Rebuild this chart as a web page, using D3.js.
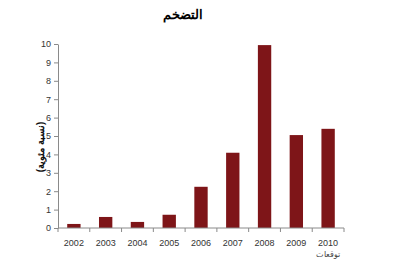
<!DOCTYPE html>
<html lang="ar">
  <head>
    <meta charset="UTF-8" />
    <title>التضخم</title>
    <script src="https://d3js.org/d3.v7.min.js"></script>
    <style>
      body { margin: 0; background: #fff; }
    </style>
  </head>
  <body>
    <div id="chart"></div>
    <script>
      const years = ['2002', '2003', '2004', '2005', '2006', '2007', '2008', '2009', '2010']
      const inflation = [0.22, 0.6, 0.33, 0.72, 2.24, 4.09, 9.94, 5.05, 5.39]
      const yTicks = [0, 1, 2, 3, 4, 5, 6, 7, 8, 9, 10]

      const W = 400, H = 265
      const margin = { top: 44, right: 56, bottom: 37, left: 58 }
      const width = W - margin.left - margin.right
      const height = H - margin.top - margin.bottom

      const svg = d3.select('#chart').append('svg')
        .attr('width', W).attr('height', H)
        .style('font-family', 'Arial, "Liberation Sans", sans-serif')

      const g = svg.append('g')
        .attr('transform', `translate(${margin.left}, ${margin.top})`)

      const x = d3.scaleBand().domain(years).range([0, width]).paddingInner(0.58).paddingOuter(0.29)
      const y = d3.scaleLinear().domain([0, 10]).range([height, 0])

      // bars
      g.selectAll('rect.bar')
        .data(years)
        .join('rect')
        .attr('class', 'bar')
        .attr('x', d => x(d))
        .attr('width', x.bandwidth())
        .attr('y', (d, i) => y(inflation[i]))
        .attr('height', (d, i) => height - y(inflation[i]))
        .attr('fill', '#7e1518')

      // y axis
      const yAxis = g.append('g')
        .call(d3.axisLeft(y).tickValues(yTicks).tickSize(4).tickSizeOuter(0).tickPadding(3))
      yAxis.select('.domain').attr('stroke', '#8a8a8a')
      yAxis.selectAll('.tick line').attr('stroke', '#8a8a8a')
      yAxis.selectAll('.tick text').attr('font-size', 9).attr('fill', '#333')

      // x axis, ticks between categories
      const xAxis = g.append('g').attr('transform', `translate(0, ${height})`)
      xAxis.append('line')
        .attr('x1', 0).attr('x2', width)
        .attr('stroke', '#8a8a8a')
      const step = x.step()
      xAxis.selectAll('line.sep')
        .data(d3.range(years.length + 1))
        .join('line')
        .attr('class', 'sep')
        .attr('x1', i => i * step).attr('x2', i => i * step)
        .attr('y1', 0).attr('y2', 4)
        .attr('stroke', '#8a8a8a')
      xAxis.selectAll('text.yr')
        .data(years)
        .join('text')
        .attr('class', 'yr')
        .attr('x', d => x(d) + x.bandwidth() / 2)
        .attr('y', 18)
        .attr('text-anchor', 'middle')
        .attr('font-size', 9)
        .attr('fill', '#333')
        .text(d => d)

      // forecast note under 2010
      xAxis.append('text')
        .attr('x', x('2010') + x.bandwidth() / 2)
        .attr('y', 29)
        .attr('text-anchor', 'middle')
        .attr('font-size', 8)
        .attr('fill', '#444')
        .text('توقعات')

      // y label
      svg.append('text')
        .attr('transform', 'translate(44, 147) rotate(-90)')
        .attr('text-anchor', 'middle')
        .attr('font-size', 10)
        .attr('font-weight', 'bold')
        .attr('fill', '#111')
        .text('(نسبة مئوية)')

      // title
      svg.append('text')
        .attr('x', 183)
        .attr('y', 19)
        .attr('text-anchor', 'middle')
        .attr('font-size', 13)
        .attr('font-weight', 'bold')
        .attr('fill', '#000')
        .text('التضخم')
    </script>
  </body>
</html>
